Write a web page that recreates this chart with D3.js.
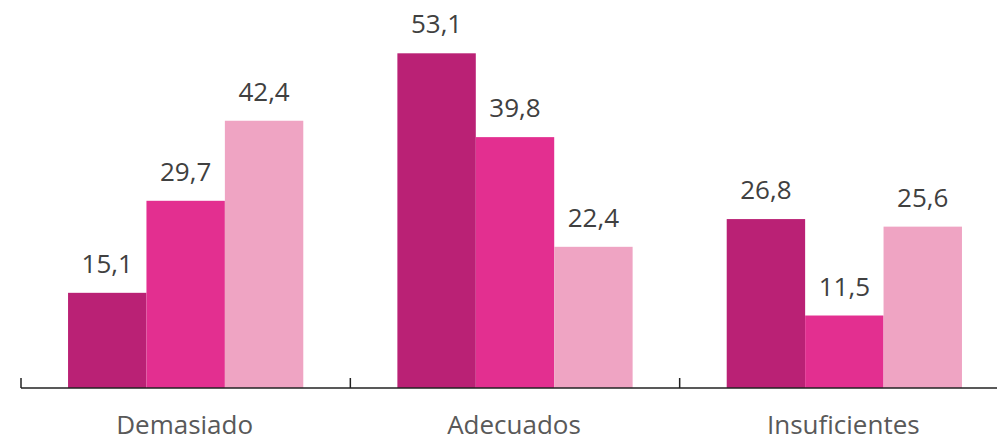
<!DOCTYPE html>
<html>
<head>
<meta charset="utf-8">
<script src="https://cdn.jsdelivr.net/npm/d3@7"></script>
<style>
  body { margin: 0; background: #fff; }
  text { font-family: "Open Sans", sans-serif; }
</style>
</head>
<body>
<div id="chart"></div>
<script>
// chart data
var categories = ["Demasiado", "Adecuados", "Insuficientes"];
var seriesNames = ["s1", "s2", "s3"];
var series1 = [15.1, 53.1, 26.8];
var series2 = [29.7, 39.8, 11.5];
var series3 = [42.4, 22.4, 25.6];
var colors = ["#BA2175", "#E32F90", "#EFA4C3"];

var width = 997, height = 441;
var baseY = 388;

var svg = d3.select("#chart").append("svg")
    .attr("width", width)
    .attr("height", height);

var x0 = d3.scaleBand().domain(categories).range([21, 1009]).paddingInner(0).paddingOuter(0);
var x1 = d3.scaleBand().domain(seriesNames).range([0, x0.bandwidth()]).paddingInner(0).paddingOuter(0.6);
// 53.1 -> top at about y=53
var y = d3.scaleLinear().domain([0, 53.1]).range([baseY, 53.3]);

var rows = categories.map(function (c, i) {
    return { cat: c, vals: [series1[i], series2[i], series3[i]] };
});

var groups = svg.selectAll("g.grp").data(rows).enter().append("g")
    .attr("class", "grp")
    .attr("transform", function (d) { return "translate(" + x0(d.cat) + ",0)"; });

groups.selectAll("rect").data(function (d) { return d.vals; }).enter().append("rect")
    .attr("x", function (d, i) { return x1(seriesNames[i]); })
    .attr("y", function (d) { return y(d); })
    .attr("width", x1.bandwidth())
    .attr("height", function (d) { return baseY - y(d); })
    .attr("fill", function (d, i) { return colors[i]; });

groups.selectAll("text.val").data(function (d) { return d.vals; }).enter().append("text")
    .attr("class", "val")
    .attr("x", function (d, i) { return x1(seriesNames[i]) + x1.bandwidth() / 2; })
    .attr("y", function (d) { return y(d) - 20; })
    .attr("text-anchor", "middle")
    .attr("font-size", 26)
    .attr("fill", "#404040")
    .text(function (d) { return d.toFixed(1).replace(".", ","); });

// axis
var axis = d3.axisBottom(x0).tickSize(0).tickFormat("");
var axisG = svg.append("g").attr("transform", "translate(0," + baseY + ")").call(axis);
axisG.select(".domain").attr("stroke", "#222").attr("stroke-width", 1.5).attr("d", "M21,0H1009");

// group boundary ticks
var bounds = categories.map(function (c) { return x0(c); });
svg.selectAll("line.bt").data(bounds).enter().append("line")
    .attr("class", "bt")
    .attr("x1", function (d) { return d; })
    .attr("x2", function (d) { return d; })
    .attr("y1", baseY - 10)
    .attr("y2", baseY)
    .attr("stroke", "#222")
    .attr("stroke-width", 1.5);

svg.selectAll("text.cat").data(categories).enter().append("text")
    .attr("class", "cat")
    .attr("x", function (d) { return x0(d) + x0.bandwidth() / 2 - 1; })
    .attr("y", 434)
    .attr("text-anchor", "middle")
    .attr("font-size", 26)
    .attr("fill", "#595959")
    .text(function (d) { return d; });
</script>
</body>
</html>
